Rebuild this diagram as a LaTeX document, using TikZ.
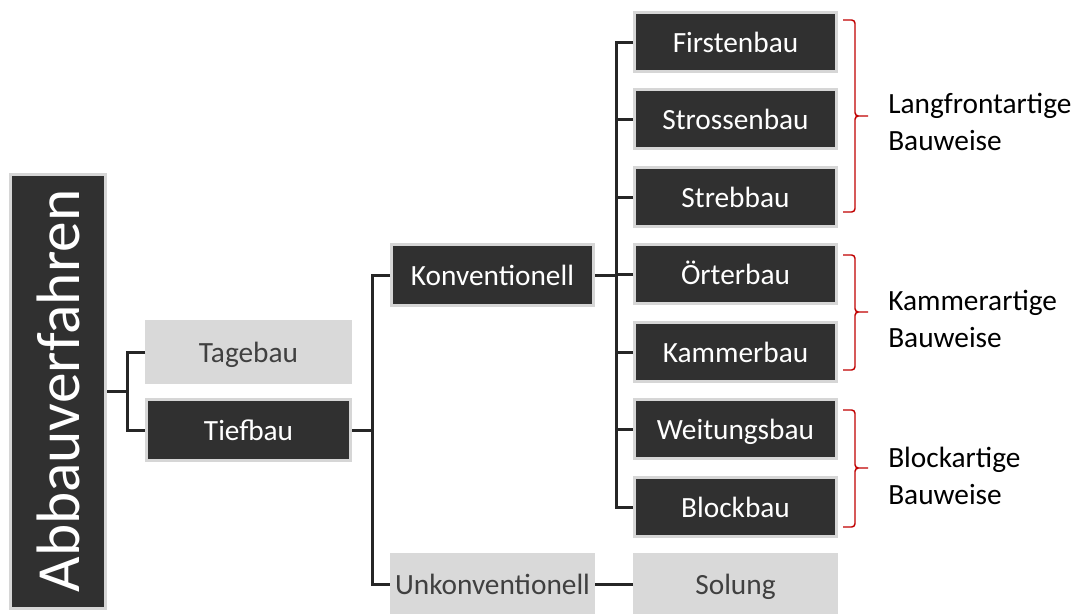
\documentclass[tikz,border=0pt]{standalone}
\usepackage{fontspec}
\setmainfont{Carlito}
\usetikzlibrary{positioning}

\definecolor{boxdark}{HTML}{303030}
\definecolor{boxlight}{HTML}{D9D9D9}
\definecolor{boxrim}{HTML}{D6D6D6}
\definecolor{treeline}{HTML}{262626}
\definecolor{bracered}{HTML}{C00000}
\definecolor{greytext}{HTML}{404040}

\tikzset{
  darkbox/.style={fill=boxdark, draw=boxrim, line width=2.25pt, text=white,
    minimum width=151.5pt, minimum height=44.25pt, inner sep=0pt,
    text height=20pt, text depth=4pt,
    font=\fontsize{22}{26}\selectfont},
  lightbox/.style={darkbox, fill=boxlight, draw=boxlight, text=greytext},
  tree/.style={draw=treeline, line width=2.25pt},
  bracket/.style={draw=bracered, line width=1.1pt, rounded corners=2.5pt},
  sidetext/.style={anchor=west, align=left, inner sep=0pt,
    font=\fontsize{22}{27.75}\selectfont}
}

\begin{document}
\begin{tikzpicture}[x=0.75pt, y=-0.75pt]
    \useasboundingbox (0,0) rectangle (1082,614);

    % root
    \node[darkbox, minimum width=71.25pt, minimum height=325.5pt, text height=, text depth=,
      font=\fontsize{46}{50}\selectfont] (abbau) at (58,391) {\rotatebox{90}{Abbauverfahren}};

    \node[lightbox, minimum width=153pt, minimum height=45.75pt] (tagebau) at (248.5,352) {Tagebau};
    \node[darkbox, minimum width=153pt, minimum height=45.75pt] (tiefbau) at (248.5,430) {Tiefbau};

    \node[darkbox, minimum height=45.75pt] (konv) at (492.5,275) {Konventionell};
    \node[lightbox] (unkonv) at (492.5,584) {Unkonventionell};

    % right column
    \node[darkbox] (firsten) at (735.5,42) {Firstenbau};
    \node[darkbox] (strossen) at (735.5,119) {Strossenbau};
    \node[darkbox] (streb) at (735.5,197) {Strebbau};
    \node[darkbox] (oerter) at (735.5,274) {Örterbau};
    \node[darkbox] (kammer) at (735.5,352) {Kammerbau};
    \node[darkbox] (weitung) at (735.5,429) {Weitungsbau};
    \node[darkbox] (block) at (735.5,507) {Blockbau};
    \node[lightbox] (solung) at (735.5,584) {Solung};

    % tree
    \draw[tree] (abbau.east) -- ++(20.5,0) coordinate (j1);
    \draw[tree] (tagebau.west) -| (j1) |- (tiefbau.west);

    \draw[tree] (tiefbau.east) -- ++(20.5,0) coordinate (j2);
    \draw[tree] (konv.west) -| (j2) |- (unkonv.west);

    \draw[tree] (konv.east) -- ++(21.5,0) coordinate (j3);
    \draw[tree] (firsten.west) -| (j3) |- (block.west);
    \foreach \n in {strossen, streb, oerter, kammer, weitung}
      \draw[tree] (\n.west) -- (\n.west -| j3);

    \draw[tree] (unkonv.east) -- (solung.west);

    % brackets
    \draw[bracket] (843,20) -- (855,20) -- (855,116) -- (868,116)
      (868,116) -- (855,116) -- (855,212) -- (843,212);
    \draw[bracket] (843,255) -- (855,255) -- (855,312) -- (868,312)
      (868,312) -- (855,312) -- (855,370) -- (843,370);
    \draw[bracket] (843,410) -- (855,410) -- (855,468) -- (868,468)
      (868,468) -- (855,468) -- (855,527) -- (843,527);

    \node[sidetext] (langfront) at (888,121.5) {Langfrontartige\\Bauweise};
    \node[sidetext] (kammerart) at (888,318.5) {Kammerartige\\Bauweise};
    \node[sidetext] (blockart) at (888,475.5) {Blockartige\\Bauweise};
  \end{tikzpicture}
\end{document}
